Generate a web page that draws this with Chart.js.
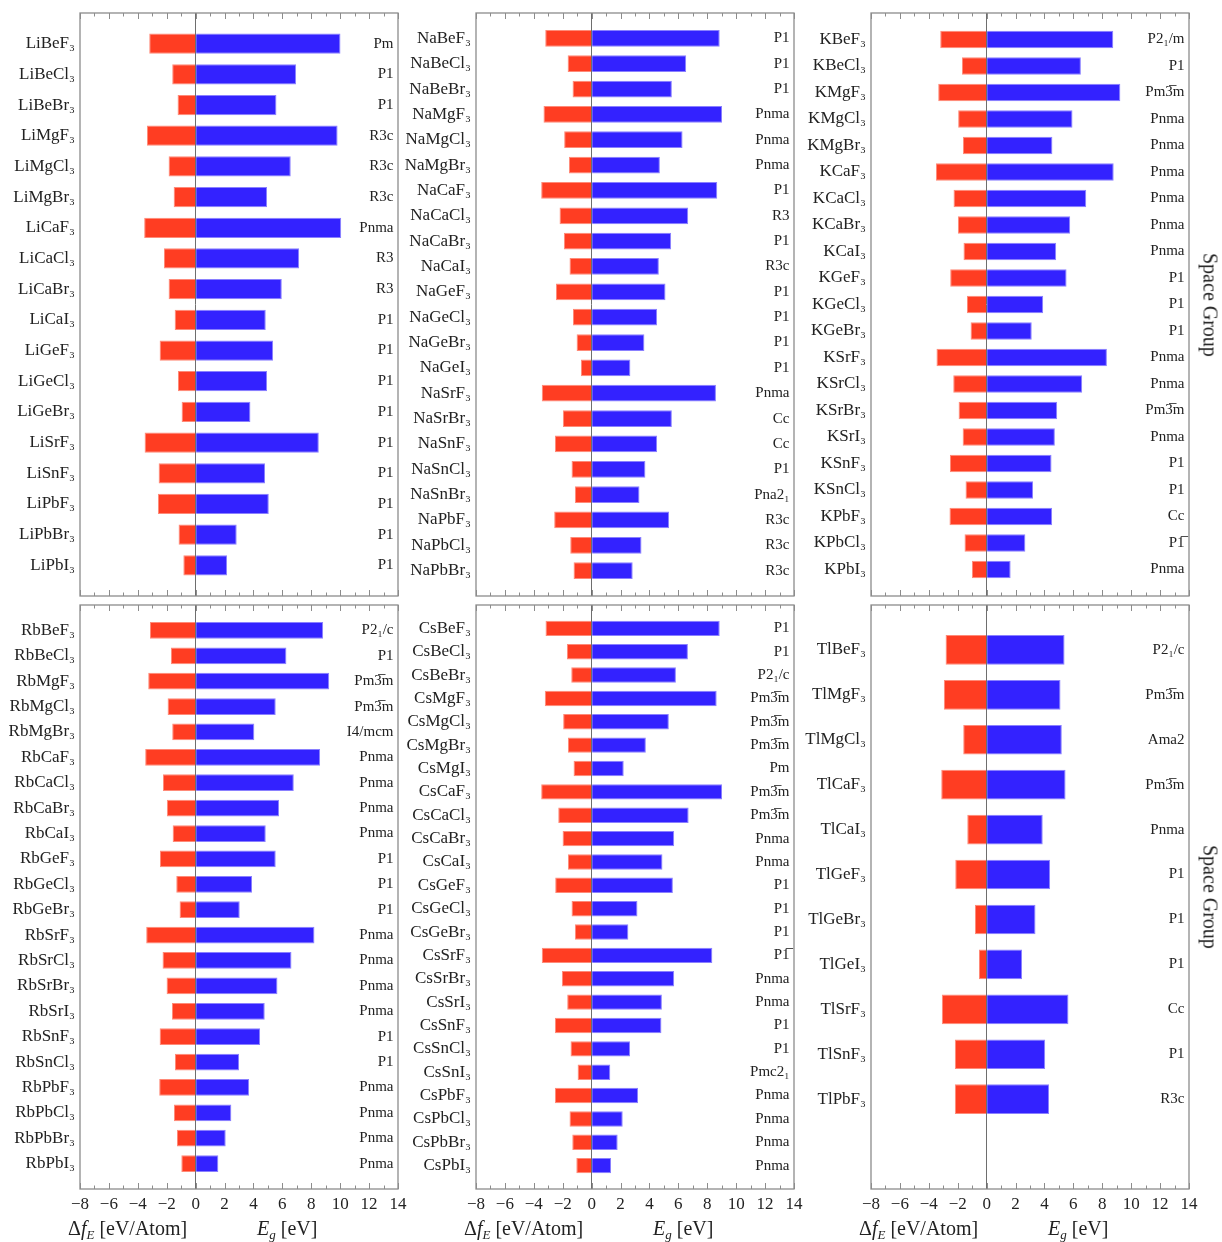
<!DOCTYPE html>
<html>
<head>
<meta charset="utf-8">
<script src="https://cdn.jsdelivr.net/npm/chart.js@4.4.1/dist/chart.umd.min.js"></script>
<style>
  body { margin: 0; background: #fff; }
  #page { position: relative; width: 1222px; height: 1242px; font-family: 'Liberation Serif', serif; color: #222; }
  .panel { position: absolute; width: 413px; }
  .top { top: 10px; height: 589px; }
  .bottom { top: 602px; height: 627px; }
  .xt { position: absolute; top: 1218px; font-size: 20px; line-height: 1; white-space: nowrap; }
  .xt sub { font-size: 13px; vertical-align: -4px; }
  .sg { position: absolute; font-size: 20px; white-space: nowrap; transform: translate(-50%, -50%) rotate(90deg); }
</style>
</head>
<body>
<div id="page">
  <div class="panel top" style="left:0px"><canvas id="c1"></canvas></div>
  <div class="panel top" style="left:396px"><canvas id="c2"></canvas></div>
  <div class="panel top" style="left:791px"><canvas id="c3"></canvas></div>
  <div class="panel bottom" style="left:0px"><canvas id="c4"></canvas></div>
  <div class="panel bottom" style="left:396px"><canvas id="c5"></canvas></div>
  <div class="panel bottom" style="left:791px"><canvas id="c6"></canvas></div>

  <div class="xt" style="left:68px">Δ<i>f</i><sub><i>E</i></sub> [eV/Atom]</div>
  <div class="xt" style="left:257px"><i>E</i><sub><i>g</i></sub> [eV]</div>
  <div class="xt" style="left:464px">Δ<i>f</i><sub><i>E</i></sub> [eV/Atom]</div>
  <div class="xt" style="left:653px"><i>E</i><sub><i>g</i></sub> [eV]</div>
  <div class="xt" style="left:859px">Δ<i>f</i><sub><i>E</i></sub> [eV/Atom]</div>
  <div class="xt" style="left:1048px"><i>E</i><sub><i>g</i></sub> [eV]</div>

  <div class="sg" style="left:1210px; top:305px">Space Group</div>
  <div class="sg" style="left:1210px; top:897px">Space Group</div>
</div>

<script>
// x axis: formation energy (negative side) and band gap (positive side)
const xMin = -8;
const xMax = 14;

// Li
const liNames = ['LiBeF₃','LiBeCl₃','LiBeBr₃','LiMgF₃','LiMgCl₃','LiMgBr₃','LiCaF₃','LiCaCl₃','LiCaBr₃','LiCaI₃','LiGeF₃','LiGeCl₃','LiGeBr₃','LiSrF₃','LiSnF₃','LiPbF₃','LiPbBr₃','LiPbI₃'];
const liForm = [-3.21,-1.62,-1.25,-3.37,-1.87,-1.52,-3.56,-2.19,-1.87,-1.45,-2.49,-1.22,-0.97,-3.53,-2.56,-2.61,-1.18,-0.85];
const liGap = [10.02,6.95,5.59,9.82,6.58,4.94,10.07,7.16,5.96,4.85,5.36,4.94,3.79,8.52,4.80,5.06,2.84,2.17];
const liSg = ['Pm','P1','P1','R3c','R3c','R3c','Pnma','R3','R3','P1','P1','P1','P1','P1','P1','P1','P1','P1'];

// Na
const naNames = ['NaBeF₃','NaBeCl₃','NaBeBr₃','NaMgF₃','NaMgCl₃','NaMgBr₃','NaCaF₃','NaCaCl₃','NaCaBr₃','NaCaI₃','NaGeF₃','NaGeCl₃','NaGeBr₃','NaGeI₃','NaSrF₃','NaSrBr₃','NaSnF₃','NaSnCl₃','NaSnBr₃','NaPbF₃','NaPbCl₃','NaPbBr₃'];
const naForm = [-3.21,-1.66,-1.32,-3.33,-1.90,-1.57,-3.49,-2.22,-1.92,-1.53,-2.47,-1.29,-1.04,-0.74,-3.45,-1.99,-2.54,-1.39,-1.16,-2.59,-1.48,-1.25];
const naGap = [8.86,6.54,5.55,9.02,6.29,4.72,8.69,6.68,5.50,4.65,5.11,4.53,3.65,2.68,8.60,5.55,4.53,3.72,3.31,5.36,3.45,2.84];
const naSg = ['P1','P1','P1','Pnma','Pnma','Pnma','P1','R3','P1','R3c','P1','P1','P1','P1','Pnma','Cc','Cc','P1','Pna2₁','R3c','R3c','R3c'];

// K
const kNames = ['KBeF₃','KBeCl₃','KMgF₃','KMgCl₃','KMgBr₃','KCaF₃','KCaCl₃','KCaBr₃','KCaI₃','KGeF₃','KGeCl₃','KGeBr₃','KSrF₃','KSrCl₃','KSrBr₃','KSrI₃','KSnF₃','KSnCl₃','KPbF₃','KPbCl₃','KPbI₃'];
const kForm = [-3.21,-1.71,-3.35,-1.97,-1.64,-3.51,-2.29,-1.99,-1.60,-2.52,-1.36,-1.11,-3.47,-2.31,-1.94,-1.66,-2.54,-1.46,-2.57,-1.53,-1.02];
const kGap = [8.76,6.52,9.25,5.94,4.55,8.79,6.89,5.78,4.81,5.53,3.91,3.12,8.32,6.61,4.88,4.72,4.49,3.21,4.53,2.68,1.66];
const kSg = ['P2₁/m','P1','Pm3\u0305m','Pnma','Pnma','Pnma','Pnma','Pnma','Pnma','P1','P1','P1','Pnma','Pnma','Pm3\u0305m','Pnma','P1','P1','Cc','P1\u0305','Pnma'];

// Rb
const rbNames = ['RbBeF₃','RbBeCl₃','RbMgF₃','RbMgCl₃','RbMgBr₃','RbCaF₃','RbCaCl₃','RbCaBr₃','RbCaI₃','RbGeF₃','RbGeCl₃','RbGeBr₃','RbSrF₃','RbSrCl₃','RbSrBr₃','RbSrI₃','RbSnF₃','RbSnCl₃','RbPbF₃','RbPbCl₃','RbPbBr₃','RbPbI₃'];
const rbForm = [-3.16,-1.71,-3.28,-1.94,-1.62,-3.49,-2.26,-1.99,-1.59,-2.47,-1.34,-1.11,-3.42,-2.29,-2.01,-1.64,-2.49,-1.43,-2.52,-1.50,-1.29,-0.99];
const rbGap = [8.82,6.28,9.24,5.54,4.06,8.61,6.79,5.77,4.85,5.54,3.90,3.05,8.22,6.63,5.66,4.78,4.46,3.00,3.70,2.47,2.08,1.57];
const rbSg = ['P2₁/c','P1','Pm3\u0305m','Pm3\u0305m','I4/mcm','Pnma','Pnma','Pnma','Pnma','P1','P1','P1','Pnma','Pnma','Pnma','Pnma','P1','P1','Pnma','Pnma','Pnma','Pnma'];

// Cs
const csNames = ['CsBeF₃','CsBeCl₃','CsBeBr₃','CsMgF₃','CsMgCl₃','CsMgBr₃','CsMgI₃','CsCaF₃','CsCaCl₃','CsCaBr₃','CsCaI₃','CsGeF₃','CsGeCl₃','CsGeBr₃','CsSrF₃','CsSrBr₃','CsSrI₃','CsSnF₃','CsSnCl₃','CsSnI₃','CsPbF₃','CsPbCl₃','CsPbBr₃','CsPbI₃'];
const csForm = [-3.19,-1.71,-1.41,-3.24,-1.97,-1.64,-1.25,-3.49,-2.31,-2.01,-1.64,-2.52,-1.39,-1.16,-3.45,-2.06,-1.69,-2.54,-1.46,-0.97,-2.54,-1.53,-1.34,-1.06];
const csGap = [8.86,6.66,5.83,8.65,5.34,3.75,2.22,9.02,6.71,5.71,4.90,5.62,3.17,2.54,8.35,5.71,4.86,4.83,2.66,1.29,3.21,2.15,1.80,1.34];
const csSg = ['P1','P1','P2₁/c','Pm3\u0305m','Pm3\u0305m','Pm3\u0305m','Pm','Pm3\u0305m','Pm3\u0305m','Pnma','Pnma','P1','P1','P1','P1\u0305','Pnma','Pnma','P1','P1','Pmc2₁','Pnma','Pnma','Pnma','Pnma'];

// Tl
const tlNames = ['TlBeF₃','TlMgF₃','TlMgCl₃','TlCaF₃','TlCaI₃','TlGeF₃','TlGeBr₃','TlGeI₃','TlSrF₃','TlSnF₃','TlPbF₃'];
const tlForm = [-2.84,-2.96,-1.62,-3.14,-1.34,-2.17,-0.81,-0.53,-3.10,-2.20,-2.20];
const tlGap = [5.39,5.11,5.20,5.46,3.88,4.39,3.38,2.45,5.66,4.05,4.32];
const tlSg = ['P2₁/c','Pm3\u0305m','Ama2','Pm3\u0305m','Pnma','P1','P1','P1','Cc','P1','R3c'];

const RED = '#ff3d22';
const RED_EDGE = '#ff8a78';
const BLUE = '#3322ff';
const BLUE_EDGE = '#8a80ff';
const SERIF = "'Liberation Serif', 'Times New Roman', serif";

// one empty slot before the first row, `after` empty slots after the last
function padded(arr, fill, after) {
    return [fill, ...arr, ...Array(after).fill(fill)];
}

// axis sizes are fixed so that every panel gets the same plot box
function fixBox(width, height) {
    return (s) => {
        if (width !== null) s.width = width;
        if (height !== null) s.height = height;
        s.paddingTop = 0; s.paddingBottom = 0;
        s.paddingLeft = 0; s.paddingRight = 0;
    };
}

// frame around the plot area with inward tick marks on top and bottom
const framePlugin = {
    id: 'frame',
    afterDraw(chart) {
        const { ctx, chartArea: a, scales: { x } } = chart;
        ctx.save();
        ctx.strokeStyle = '#8c8c8c';
        ctx.lineWidth = 1.3;
        ctx.strokeRect(a.left, a.top, a.right - a.left, a.bottom - a.top);
        ctx.lineWidth = 1;
        ctx.beginPath();
        for (let v = xMin; v <= xMax; v++) {
            const px = Math.round(x.getPixelForValue(v)) + 0.5;
            const len = v % 2 === 0 ? 6 : 3.5;
            ctx.moveTo(px, a.top); ctx.lineTo(px, a.top + len);
            ctx.moveTo(px, a.bottom); ctx.lineTo(px, a.bottom - len);
        }
        ctx.stroke();
        ctx.restore();
    }
};

function makePanel(id, names, form, gap, sg, after, showX) {
    new Chart(document.getElementById(id), {
        type: 'bar',
        data: {
            labels: padded(names, '', after),
            datasets: [
                {
                    label: 'Formation energy',
                    data: padded(form, null, after),
                    backgroundColor: RED,
                    borderColor: RED_EDGE,
                    borderWidth: 1,
                    grouped: false,
                    barPercentage: 0.66,
                    categoryPercentage: 1
                },
                {
                    label: 'Band gap',
                    data: padded(gap, null, after),
                    backgroundColor: BLUE,
                    borderColor: BLUE_EDGE,
                    borderWidth: 1,
                    grouped: false,
                    barPercentage: 0.66,
                    categoryPercentage: 1
                }
            ]
        },
        options: {
            indexAxis: 'y',
            responsive: true,
            maintainAspectRatio: false,
            animation: false,
            layout: { padding: { top: 3, right: 15, left: 0, bottom: 0 } },
            plugins: { legend: { display: false }, tooltip: { enabled: false } },
            scales: {
                x: {
                    type: 'linear',
                    min: xMin,
                    max: xMax,
                    border: { display: false },
                    grid: {
                        drawTicks: false,
                        lineWidth: 1,
                        color: (c) => (c.tick && c.tick.value === 0) ? '#6e6e6e' : 'rgba(0,0,0,0)'
                    },
                    ticks: {
                        display: showX,
                        stepSize: 2,
                        autoSkip: false,
                        maxRotation: 0,
                        padding: 5,
                        color: '#222',
                        font: { family: SERIF, size: 17 },
                        callback: (v) => v < 0 ? '\u2212' + Math.abs(v) : String(v)
                    },
                    afterFit: fixBox(null, showX ? 40 : 3)
                },
                y: {
                    type: 'category',
                    offset: false,
                    border: { display: false },
                    grid: { display: false, drawTicks: false },
                    ticks: { autoSkip: false, padding: 5, color: '#222', font: { family: SERIF, size: 17 } },
                    afterFit: fixBox(80, null)
                },
                y2: {
                    type: 'category',
                    labels: padded(sg, '', after),
                    position: 'right',
                    offset: false,
                    border: { display: false },
                    grid: { display: false, drawTicks: false },
                    ticks: { mirror: true, autoSkip: false, padding: -4.5, color: '#222', font: { family: SERIF, size: 15 } },
                    afterFit: fixBox(0, null)
                }
            }
        },
        plugins: [framePlugin]
    });
}

makePanel('c1', liNames, liForm, liGap, liSg, 1, false);
makePanel('c2', naNames, naForm, naGap, naSg, 1, false);
makePanel('c3', kNames, kForm, kGap, kSg, 1, false);
makePanel('c4', rbNames, rbForm, rbGap, rbSg, 1, true);
makePanel('c5', csNames, csForm, csGap, csSg, 1, true);
makePanel('c6', tlNames, tlForm, tlGap, tlSg, 2, true);
</script>
</body>
</html>
